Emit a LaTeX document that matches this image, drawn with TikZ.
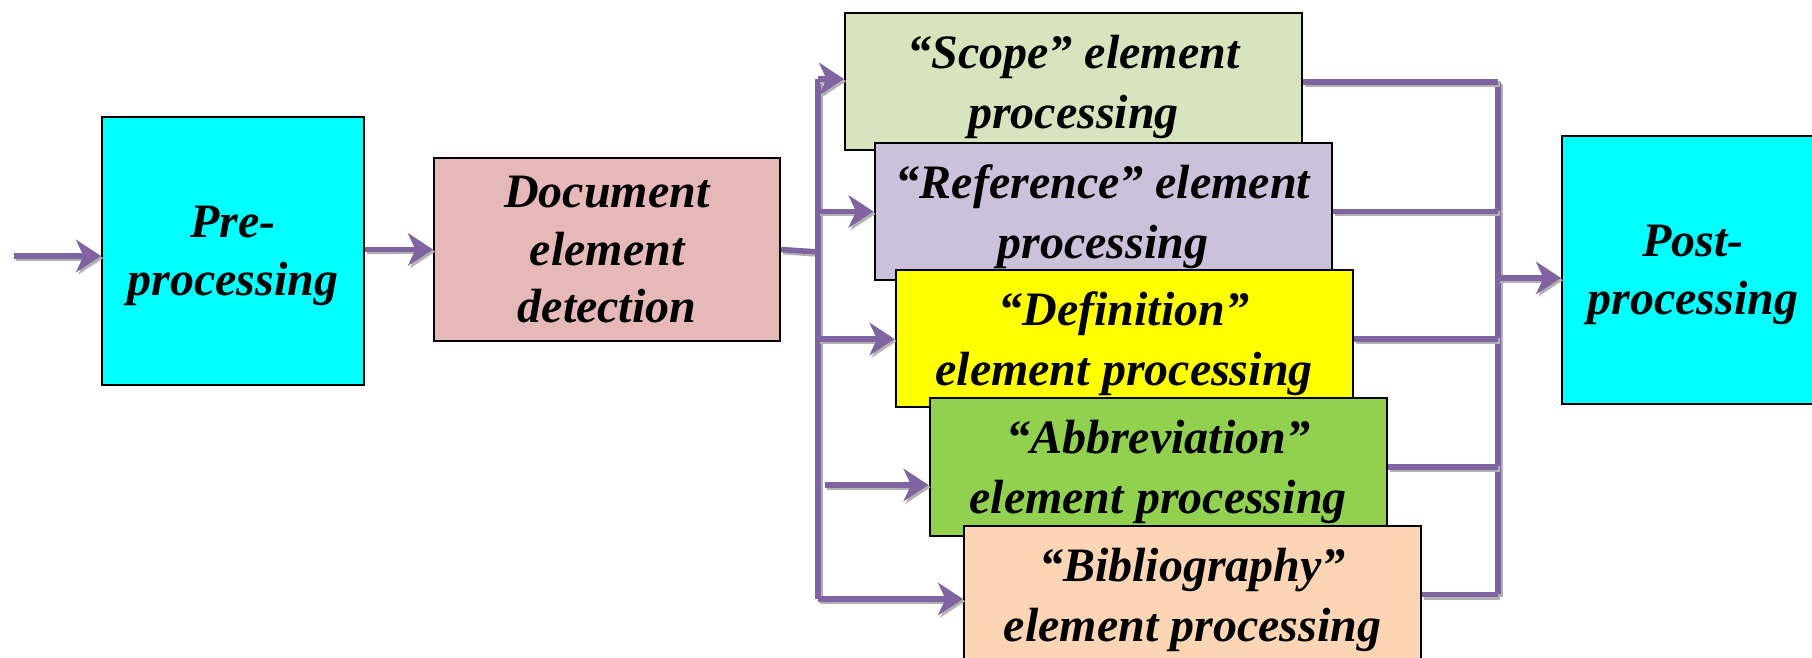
\documentclass[tikz,border=0pt]{standalone}
\usepackage{fontspec}
\setmainfont{Liberation Serif}
\usetikzlibrary{
    arrows.meta,      % For the barbed arrow tips
    calc              % For shifted anchor points
}

% Box fills and connector colour
\definecolor{stagecyan}{HTML}{00FFFF}
\definecolor{detectpink}{HTML}{E6B9B8}
\definecolor{scopegreen}{HTML}{D7E4BD}
\definecolor{reflilac}{HTML}{CCC1DA}
\definecolor{defyellow}{HTML}{FFFF00}
\definecolor{abbrgreen}{HTML}{92D050}
\definecolor{bibpeach}{HTML}{FCD5B5}
\definecolor{flowpurple}{HTML}{8064A2}

\begin{document}
\begin{tikzpicture}[
    x=0.4pt, y=-0.4pt, % One unit per pixel, y running downwards
    % Style for every box (negative text depth sets the text a bit low)
    box_style/.style={
        draw=black,
        line width=0.8pt,
        inner sep=0pt,
        align=center,
        text depth=-1pt,
        font=\bfseries\itshape\fontsize{19.2}{23}\selectfont
    },
    % Outer stages (pre/post)
    stage_box/.style={box_style, fill=stagecyan, minimum width=104.8pt, minimum height=107.2pt},
    % The five stacked element processors
    element_box/.style={box_style, minimum width=182.8pt, minimum height=54.8pt,
        text depth=-1.5pt,
        font=\bfseries\itshape\fontsize{19.2}{24}\selectfont},
    % Purple connector with its grey drop shadow
    flow_line/.style={
        draw=flowpurple,
        line width=2.2pt,
        preaction={draw=gray!60, line width=2.2pt,
            transform canvas={xshift=0.9pt, yshift=-0.9pt}}
    },
    % Style for arrowheads
    flow_arrow/.style={
        flow_line,
        -{Stealth[length=10pt, width=13pt, inset=3pt]}
    }
]
    \useasboundingbox (0,0) rectangle (1812,658);

    % 1. Main stages
    \node[stage_box] (pre) at (233,251) {Pre-\\processing};
    \node[box_style, fill=detectpink, minimum width=138.4pt, minimum height=73.2pt]
        (detect) at (607,249.5) {Document\\element\\detection};
    \node[stage_box] (post) at (1693,270) {Post-\\processing};

    % 2. Stacked element boxes, each drawn over the one before
    \node[element_box, fill=scopegreen] (scope) at (1073.5,82) {“Scope” element\\processing};
    \node[element_box, fill=reflilac] (reference) at (1103,211.5) {“Reference” element\\processing};
    \node[element_box, fill=defyellow] (definition) at (1124,339) {“Definition”\\element processing};
    \node[element_box, fill=abbrgreen] (abbreviation) at (1158,467) {“Abbreviation”\\element processing};
    \node[element_box, fill=bibpeach] (bibliography) at (1192.5,594.5) {“Bibliography”\\element processing};

    % 3. Input and chain into the detector
    \coordinate (input) at (14,256);
    \draw[flow_arrow] (input) -- (input -| pre.west);
    \draw[flow_arrow] (pre.east |- detect.east) -- (detect.west);

    % 4. Fan-out bus on the left
    \coordinate (fork) at (818,252);
    \draw[flow_line] (detect.east) -- (fork);
    \draw[flow_line] (fork |- 0,79) -- (fork |- 0,599);
    \draw[flow_arrow] (fork |- 0,79) -- (scope.west |- 0,79);
    \draw[flow_arrow] (fork |- reference.west) -- (reference.west);
    \draw[flow_arrow] (fork |- definition.west) -- (definition.west);
    \coordinate (abbr_in) at ($(abbreviation.west)+(-104,18)$);
    \draw[flow_arrow] (abbr_in) -- ($(abbreviation.west)+(0,18)$);
    \draw[flow_arrow] (fork |- 0,599) -- (bibliography.west |- 0,599);

    % 5. Fan-in bus on the right
    \coordinate (join) at (1498,278);
    \draw[flow_line] (join |- scope.east) -- (join |- bibliography.east);
    \foreach \stage in {scope, reference, definition, abbreviation, bibliography}
        \draw[flow_line] (\stage.east) -- (join |- \stage.east);
    \draw[flow_arrow] (join) -- (post.west |- join);

\end{tikzpicture}
\end{document}
